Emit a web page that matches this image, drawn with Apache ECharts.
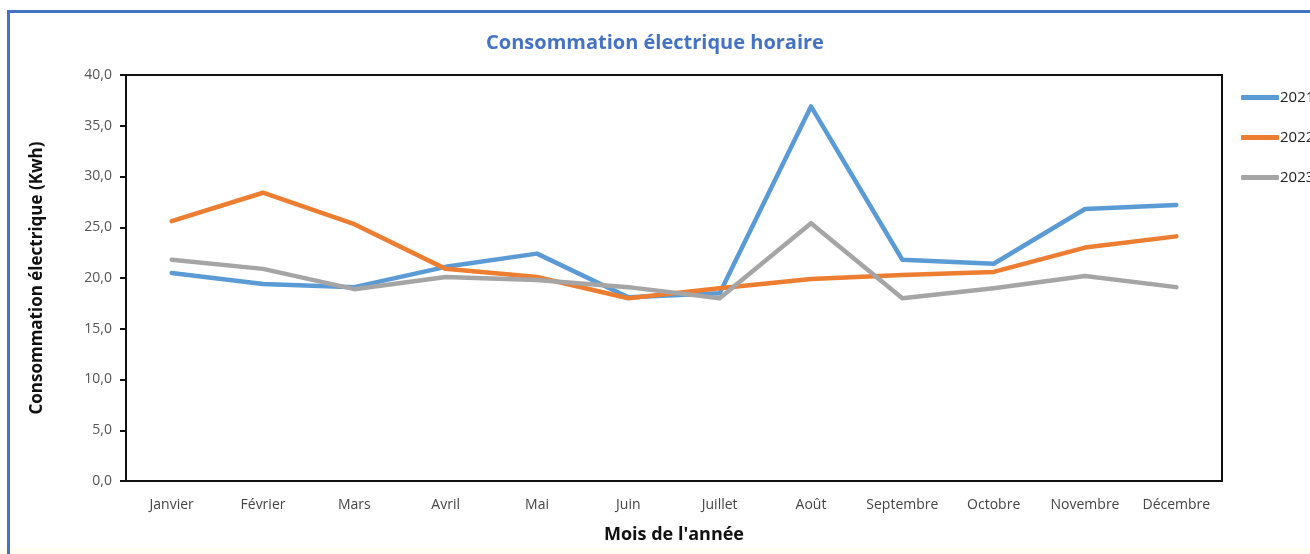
<!DOCTYPE html>
<html><head><meta charset="utf-8">
<script src="https://cdn.jsdelivr.net/npm/echarts@6/dist/echarts.min.js"></script>
<style>
html,body{margin:0;padding:0;background:#fff;overflow:hidden}
#c{position:absolute;left:0;top:0;width:1310px;height:554px}
#frame{position:absolute;left:7px;top:10px;width:1400px;height:600px;border-left:3px solid #4472C4;border-top:3px solid #4472C4;pointer-events:none}
#strip{position:absolute;left:0;top:548px;width:1310px;height:6px;background:#FFFCF1}
</style></head>
<body>
<div id="c"></div>
<div id="strip"></div>
<div id="frame"></div>
<script>
const categories = ['Janvier','Février','Mars','Avril','Mai','Juin','Juillet','Août','Septembre','Octobre','Novembre','Décembre'];
const s2021 = [20.5,19.4,19.1,21.1,22.4,18.1,18.5,36.9,21.8,21.4,26.8,27.2];
const s2022 = [25.6,28.4,25.3,20.9,20.1,18.0,19.0,19.9,20.3,20.6,23.0,24.1];
const s2023 = [21.8,20.9,18.9,20.1,19.8,19.1,18.0,25.4,18.0,19.0,20.2,19.1];
const seriesNames = ['2021','2022','2023'];
const colors = ['#5B9BD5','#ED7D31','#A5A5A5'];
const yTicks = {min:0,max:40,interval:5};

const FONT = '"Open Sans", sans-serif';
const chart = echarts.init(document.getElementById('c'), null, {renderer:'canvas'});
const data = [s2021,s2022,s2023];
chart.setOption({
  animation:false,
  backgroundColor:'transparent',
  title:{text:'Consommation électrique horaire',left:'center',top:28,
    textStyle:{color:'#4472C4',fontSize:20,fontWeight:'bold',fontFamily:FONT}},
  legend:{orient:'vertical',left:1236,top:85,itemGap:25,itemWidth:38,itemHeight:5,
    icon:'roundRect',data:seriesNames,
    textStyle:{color:'#222',fontSize:15,fontFamily:FONT,padding:[0,0,0,-4]}},
  grid:{left:126,top:75,right:88,bottom:73,show:true,borderColor:'#111',borderWidth:2,backgroundColor:'transparent'},
  xAxis:{type:'category',data:categories,boundaryGap:true,
    name:"Mois de l'année",nameLocation:'middle',nameGap:45,
    nameTextStyle:{color:'#111',fontSize:18,fontWeight:'bold',fontFamily:FONT},
    axisLine:{show:true,lineStyle:{color:'#111',width:2}},
    axisTick:{show:false},
    axisLabel:{color:'#444',fontSize:14,fontFamily:FONT,margin:17,interval:0}},
  yAxis:{type:'value',min:yTicks.min,max:yTicks.max,interval:yTicks.interval,
    name:'Consommation électrique (Kwh)',nameLocation:'middle',nameGap:80,nameRotate:90,
    nameTextStyle:{color:'#111',fontSize:17,fontWeight:'bold',fontFamily:FONT},
    axisLine:{show:true,lineStyle:{color:'#111',width:2}},
    axisTick:{show:true,length:6,lineStyle:{color:'#111',width:2}},
    splitLine:{show:false},
    axisLabel:{color:'#555',fontSize:14,fontFamily:FONT,margin:14,
      formatter:v=>v.toFixed(1).replace('.',',')}},
  series:seriesNames.map((n,i)=>({name:n,type:'line',data:data[i],
    symbol:'none',lineStyle:{color:colors[i],width:4.5,cap:'round',join:'round'},
    itemStyle:{color:colors[i]}}))
});
</script>
</body></html>
